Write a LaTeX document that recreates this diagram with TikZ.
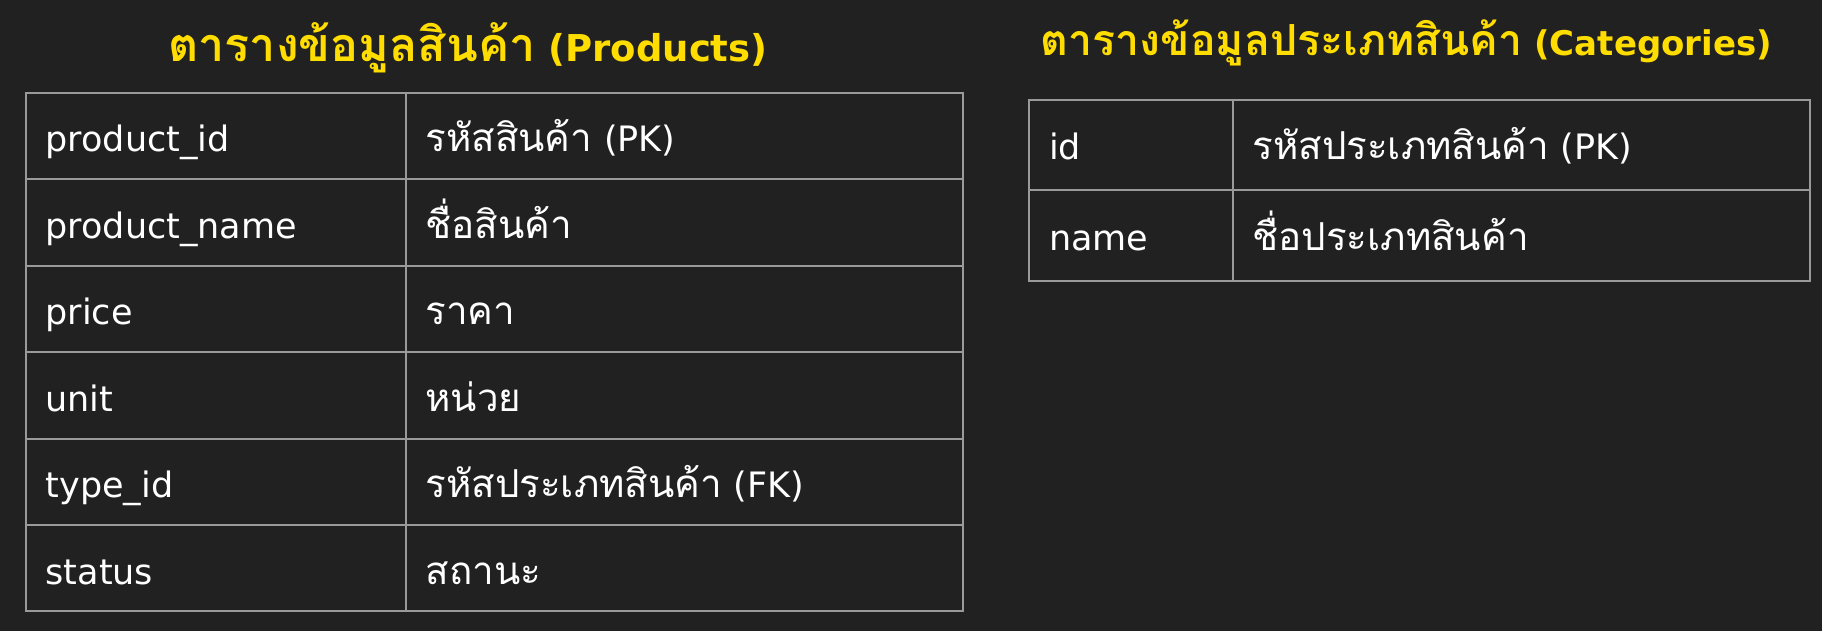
\documentclass[tikz,border=0pt]{standalone}
\usepackage{fontspec}
\setmainfont{DejaVu Sans}
\newfontfamily\thaifont[Script=Thai, Scale=1.1]{Loma}
\newfontfamily\thaihead[Script=Thai, Scale=1.26]{Loma}
\newcommand{\thaitext}[1]{{\thaifont #1}}
\newcommand{\thaititle}[1]{{\thaihead\bfseries #1}}
\usetikzlibrary{positioning}
\definecolor{bgdark}{HTML}{212121}
\definecolor{gridgray}{HTML}{9A9A9A}
\definecolor{titleyellow}{HTML}{FFDD00}

\begin{document}
\begin{tikzpicture}[x=0.5pt, y=-0.5pt,
  cell/.style = {draw=gridgray, line width=1pt, align=left, inner xsep=10pt, inner ysep=0pt, outer sep=0pt, text=white, font=\fontsize{17.5}{20}\selectfont, text depth=3.2pt},
  prow/.style = {cell, minimum height=43.2pt, text height=19pt},
  crow/.style = {cell, minimum height=45.25pt, text height=17.95pt},
  title/.style = {text=titleyellow, inner sep=0pt}]
\path[use as bounding box, fill=bgdark] (0,0) rectangle (1822,631);

\node[title, anchor=base, font=\fontsize{18.5}{22}\selectfont\bfseries] (pt) at (468,62) {\thaititle{ตารางข้อมูลสินค้า} (Products)};
\node[prow, text width=170pt, anchor=north west] (p1) at (25.6,93) {product\_id};
\node[prow, text width=170pt] (p2) [below=0pt of p1] {product\_name};
\node[prow, text width=170pt] (p3) [below=0pt of p2] {price};
\node[prow, text width=170pt] (p4) [below=0pt of p3] {unit};
\node[prow, text width=170pt] (p5) [below=0pt of p4] {type\_id};
\node[prow, text width=170pt] (p6) [below=0pt of p5] {status};
\node[prow, text width=258.75pt] (pd1) [right=0pt of p1] {\thaitext{รหัสสินค้า} (PK)};
\node[prow, text width=258.75pt] (pd2) [right=0pt of p2] {\thaitext{ชื่อสินค้า}};
\node[prow, text width=258.75pt] (pd3) [right=0pt of p3] {\thaitext{ราคา}};
\node[prow, text width=258.75pt] (pd4) [right=0pt of p4] {\thaitext{หน่วย}};
\node[prow, text width=258.75pt] (pd5) [right=0pt of p5] {\thaitext{รหัสประเภทสินค้า} (FK)};
\node[prow, text width=258.75pt] (pd6) [right=0pt of p6] {\thaitext{สถานะ}};

\node[title, anchor=base, font=\fontsize{17}{20}\selectfont\bfseries] (ct) at (1406.5,56) {\thaititle{ตารางข้อมูลประเภทสินค้า} (Categories)};
\node[crow, text width=81.75pt, anchor=north west] (c1) at (1029,100) {id};
\node[crow, text width=81.75pt] (c2) [below=0pt of c1] {name};
\node[crow, text width=268.75pt] (cd1) [right=0pt of c1] {\thaitext{รหัสประเภทสินค้า} (PK)};
\node[crow, text width=268.75pt] (cd2) [right=0pt of c2] {\thaitext{ชื่อประเภทสินค้า}};
\end{tikzpicture}
\end{document}
